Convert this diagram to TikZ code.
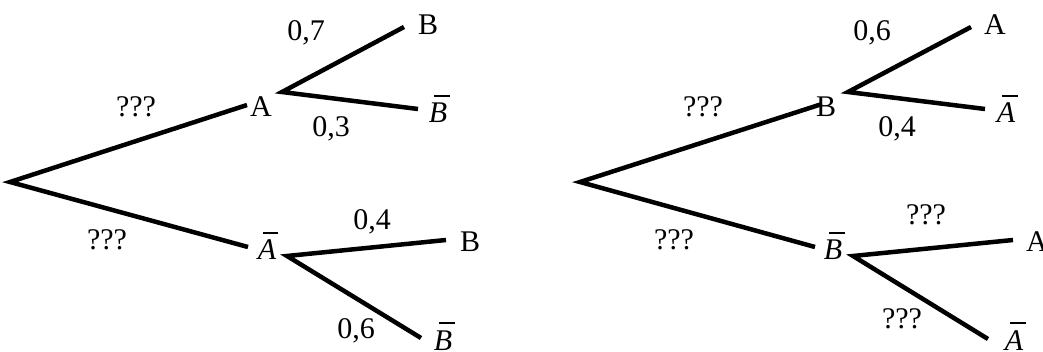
\RequirePackage{fix-cm}
\documentclass[tikz,border=0pt]{standalone}
\usepackage{amsmath,amssymb}
\usepackage{fontspec}
\setmainfont{Liberation Serif}
\usepackage{tikz}
\usetikzlibrary{positioning}
\newcommand{\compl}[1]{\makebox[0pt][l]{\hspace{0.17em}\rule[0.86em]{0.52em}{0.07em}}\textit{#1}}

\begin{document}
\begin{tikzpicture}[x=1pt, y=-1pt,
  branch/.style={line width=4.5pt},
  event/.style={font=\fontsize{30}{36}\selectfont, inner sep=0pt, anchor=base},
  prob/.style={font=\fontsize{30}{36}\selectfont, inner sep=0pt, anchor=base},
]
\useasboundingbox (0,0) rectangle (1043,352);

% Tree 1: first A, then B
\coordinate (r1) at (10,182);
\coordinate (r1A) at (247,105);
\coordinate (r1Ab) at (248,247);
\coordinate (sA) at (282,92);
\coordinate (sAB) at (404,27);
\coordinate (sABb) at (418,109);
\coordinate (sAb) at (287,256);
\coordinate (sAbB) at (446,240);
\coordinate (sAbBb) at (421,338);

\node[event] (nA) at (261,117) {A};
\node[event] (nAb) at (267,260) {\compl{A}};
\node[event] (nAB) at (428,35) {B};
\node[event] (nABb) at (438,123) {\compl{B}};
\node[event] (nAbB) at (470,252) {B};
\node[event] (nAbBb) at (443,350) {\compl{B}};

\draw[branch] (sAB) -- (sA) -- (sABb);
\draw[branch] (r1A) -- (r1) -- (r1Ab);
\draw[branch] (sAbB) -- (sAb) -- (sAbBb);

\node[prob] (p1a) at (136,117) {???};
\node[prob] (p1b) at (107,250) {???};
\node[prob] (p1c) at (306,41) {0,7};
\node[prob] (p1d) at (331,137) {0,3};
\node[prob] (p1e) at (372,230) {0,4};
\node[prob] (p1f) at (356,338) {0,6};

% Tree 2: first B, then A
\coordinate (r2) at (580,182);
\coordinate (r2B) at (822,104);
\coordinate (r2Bb) at (815,247);
\coordinate (sB) at (848,92);
\coordinate (sBA) at (971,27);
\coordinate (sBAb) at (985,109);
\coordinate (sBb) at (853,256);
\coordinate (sBbA) at (1013,240);
\coordinate (sBbAb) at (988,339);

\node[event] (nB) at (826,117) {B};
\node[event] (nBb) at (833,260) {\compl{B}};
\node[event] (nBA) at (995,35) {A};
\node[event] (nBAb) at (1006,123) {\compl{A}};
\node[event] (nBbA) at (1037,252) {A};
\node[event] (nBbAb) at (1014,350) {\compl{A}};

\draw[branch] (sBA) -- (sB) -- (sBAb);
\draw[branch] (r2B) -- (r2) -- (r2Bb);
\draw[branch] (sBbA) -- (sBb) -- (sBbAb);

\node[prob] (p2a) at (703,117) {???};
\node[prob] (p2b) at (674,250) {???};
\node[prob] (p2c) at (872,41) {0,6};
\node[prob] (p2d) at (897,137) {0,4};
\node[prob] (p2e) at (926,225) {???};
\node[prob] (p2f) at (902,328) {???};
\end{tikzpicture}
\end{document}
